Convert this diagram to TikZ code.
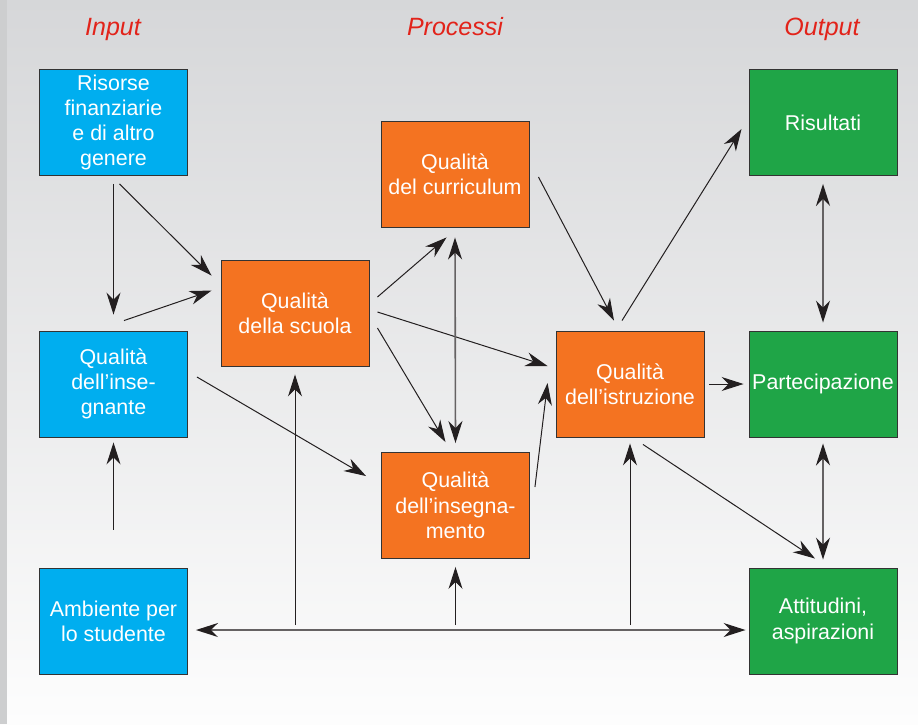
\documentclass[tikz,border=0pt]{standalone}
\usepackage{fontspec}
\setmainfont{Liberation Sans}
\usetikzlibrary{arrows.meta,calc}
\definecolor{bgtop}{HTML}{D6D7D9}
\definecolor{bgbot}{HTML}{FDFDFD}
\definecolor{strip}{HTML}{CDCECF}
\definecolor{inblue}{HTML}{00AEEF}
\definecolor{procorange}{HTML}{F47321}
\definecolor{outgreen}{HTML}{1FA547}
\definecolor{boxline}{HTML}{333333}
\definecolor{linecol}{HTML}{231F20}
\definecolor{headred}{HTML}{E2231A}
\begin{document}
\begin{tikzpicture}[x=1pt,y=-1pt,
  box/.style={rectangle, draw=boxline, line width=0.9pt,
    minimum width=148pt, minimum height=106pt, inner sep=0pt,
    text=white, align=center, font=\fontsize{21.4}{25.3}\selectfont},
  bluebox/.style={box, fill=inblue},
  orangebox/.style={box, fill=procorange},
  greenbox/.style={box, fill=outgreen},
  head/.style={anchor=base, text=headred, font=\fontsize{25}{30}\selectfont\itshape},
  tip/.tip={Stealth[length=22pt,width=14pt,inset=7pt,color=linecol]},
  arr/.style={draw=linecol, line width=1pt, -tip},
  darr/.style={draw=linecol!70, line width=1.6pt, tip-tip},
]
% background
\shade[top color=bgtop, bottom color=bgbot] (0,0) rectangle (918,724);
\fill[strip] (0,0) rectangle (7,724);
\useasboundingbox (0,0) rectangle (918,724);

% column headings
\node[head] (hin)  at (113,35) {Input};
\node[head] (hpro) at (455,35) {Processi};
\node[head] (hout) at (822,35) {Output};

% input boxes
\node[bluebox] (ris) at (113.5,122.5) {Risorse\\finanziarie\\e di altro\\genere};
\node[bluebox] (ins) at (113.5,384)   {Qualità\\dell’inse-\\gnante};
\node[bluebox] (amb) at (113.5,621)   {Ambiente per\\lo studente};

% process boxes
\node[orangebox] (cur) at (455,174)   {Qualità\\del curriculum};
\node[orangebox] (scu) at (295,313)   {Qualità\\della scuola};
\node[orangebox] (ism) at (455.5,505.5) {Qualità\\dell’insegna-\\mento};
\node[orangebox] (ist) at (630,384)   {Qualità\\dell’istruzione};

% output boxes
\node[greenbox] (rsl) at (823,122.5) {Risultati};
\node[greenbox] (par) at (823,384)   {Partecipazione};
\node[greenbox] (att) at (823,621)   {Attitudini,\\aspirazioni};

% connectors between inputs and processes
\draw[arr] ($(ris.south)+(0,8)$) -- ($(ins.north)+(0,-16)$);
\draw[arr] ($(ris.south)+(6,8)$) -- ($(scu.north west)+(-9,16)$);
\draw[arr] ($(ins.north)+(10.5,-10)$) -- ($(scu.north west)+(-9,31)$);
\draw[arr] ($(ins.east)+(9,-7)$) -- ($(ism.north west)+(-15,24)$);
\draw[arr] ($(amb.north)+(0,-38)$) -- ($(ins.south)+(0,5)$);

% connectors among processes
\draw[arr] ($(scu.east)+(8,-16)$) -- ($(cur.south west)+(66,10)$);
\draw[arr] ($(scu.east)+(8,-1)$) -- ($(ist.west)+(-8,-18)$);
\draw[arr] ($(scu.east)+(8,15)$) -- ($(ism.north)+(-10,-10)$);
\draw[darr] ($(cur.south)+(0,10)$) -- ($(ism.north)+(0,-9)$);
\draw[arr] ($(ism.east)+(5,-18.5)$) -- ($(ist.west)+(-8,-1)$);
\draw[arr] ($(cur.east)+(9,3)$) -- ($(ist.north)+(-16,-10)$);

% connectors towards outputs
\draw[arr] ($(ist.north)+(-8,-10)$) -- ($(rsl.west)+(-7,6.5)$);
\draw[arr] ($(ist.east)+(5,0)$) -- ($(par.west)+(-5,0)$);
\draw[arr] ($(ist.south)+(13,7)$) -- ($(att.north)+(-8,-9)$);
\draw[darr] ($(rsl.south)+(0,8)$) -- ($(par.north)+(0,-8)$);
\draw[darr] ($(par.south)+(0,6)$) -- ($(att.north)+(0,-8)$);

% student environment line and its feeds
\draw[darr] ($(amb.east)+(8,9)$) -- ($(att.west)+(-3,9)$);
\coordinate (f1) at ($(scu.south |- amb.east)+(0,4)$);
\coordinate (f2) at ($(ism.south |- amb.east)+(0,4)$);
\coordinate (f3) at ($(ist.south |- amb.east)+(0,4)$);
\draw[arr] (f1) -- ($(scu.south)+(0,8)$);
\draw[arr] (f2) -- ($(ism.south)+(0,8)$);
\draw[arr] (f3) -- ($(ist.south)+(0,6)$);
\end{tikzpicture}
\end{document}
